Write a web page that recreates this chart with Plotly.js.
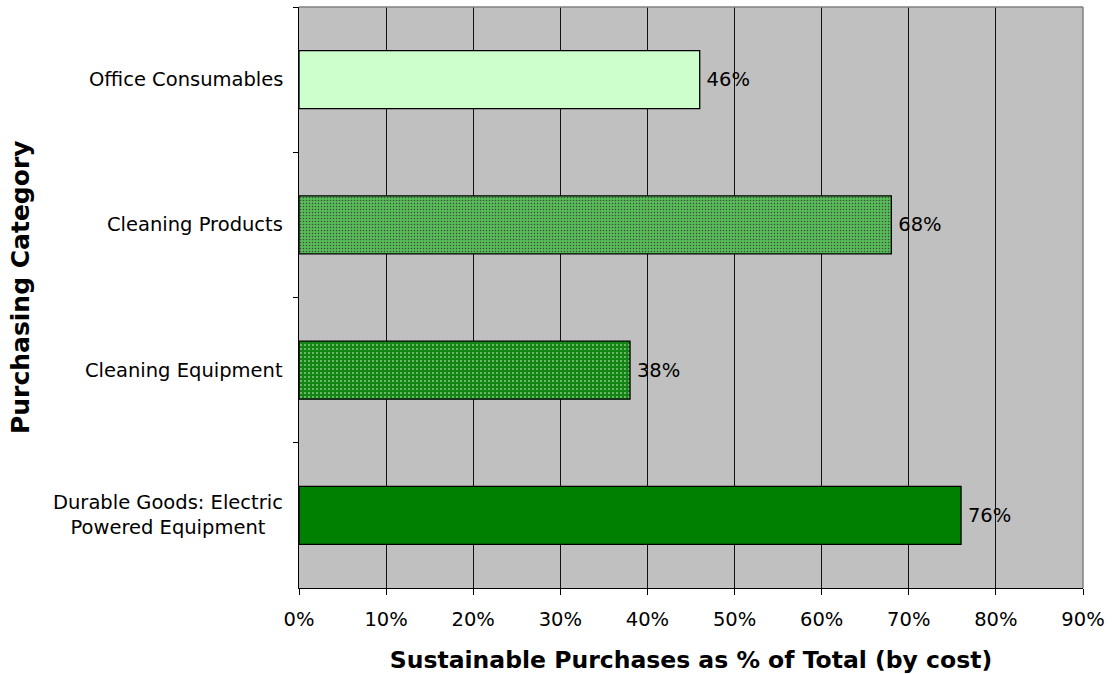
<!DOCTYPE html>
<html>
<head>
<meta charset="utf-8">
<script src="https://cdn.plot.ly/plotly-3.0.1.min.js"></script>
<style>
  html, body { margin: 0; padding: 0; background: #ffffff; }
  #chart { width: 1112px; height: 674px; }
</style>
</head>
<body>
<div id="chart"></div>
<script>
// Purchasing categories, top to bottom
const categories = [
  'Office Consumables',
  'Cleaning Products',
  'Cleaning Equipment',
  'Durable Goods: Electric<br>Powered Equipment'
];
// Sustainable share of spend per category
const shares = [0.46, 0.68, 0.38, 0.76];

// Bar fills: base colour plus an optional dot texture laid over it
const baseColors   = ['#ccffcc', '#55bd55', '#138513', '#008000'];
const patternShape = ['', '.', '.', ''];
const patternFg    = ['#ccffcc', '#95e395', '#62bc62', '#008000'];
const patternSize  = [4, 3, 4, 4];
const patternSolid = [0.2, 0.2, 0.1, 0.2];

const FONT = 'DejaVu Sans, Verdana, sans-serif';

const bars = {
  type: 'bar',
  orientation: 'h',
  x: shares,
  y: categories,
  marker: {
    color: baseColors,
    line: { color: '#000000', width: 1.3 },
    pattern: {
      shape: patternShape,
      fgcolor: patternFg,
      size: patternSize,
      solidity: patternSolid,
      fillmode: 'overlay',
      fgopacity: 1
    }
  },
  texttemplate: '\u2009%{x:.0%}',
  textposition: 'outside',
  textfont: { family: FONT, size: 19.5, color: '#000000' },
  cliponaxis: false,
  hoverinfo: 'skip'
};

// Category names drawn as centred text blocks to the left of the axis
const categoryLabels = categories.map((name) => ({
  xref: 'paper', yref: 'y',
  x: 0, y: name,
  xanchor: 'right', yanchor: 'middle',
  xshift: -14,
  align: 'center',
  showarrow: false,
  text: name,
  font: { family: FONT, size: 19.5, color: '#000000' }
}));

// Vertical axis title, set slightly above the plot's mid-height
const yTitle = {
  xref: 'paper', yref: 'paper',
  x: 0, y: 0.518,
  xanchor: 'center', yanchor: 'middle',
  xshift: -279,
  textangle: -90,
  showarrow: false,
  text: 'Purchasing Category',
  font: { family: FONT, size: 25, color: '#000000', weight: 'bold' }
};

const layout = {
  width: 1112,
  height: 674,
  margin: { l: 299, r: 29, t: 7, b: 86, pad: 0 },
  paper_bgcolor: '#ffffff',
  plot_bgcolor: '#c0c0c0',
  showlegend: false,
  bargap: 0.6,
  font: { family: FONT, size: 19.5, color: '#000000' },
  xaxis: {
    range: [0, 0.9],
    dtick: 0.1,
    tick0: 0,
    tickformat: '.0%',
    showgrid: true,
    gridcolor: '#111111',
    gridwidth: 1,
    zeroline: false,
    showline: true,
    linecolor: '#000000',
    linewidth: 1,
    ticks: 'outside',
    ticklen: 6,
    tickcolor: '#000000',
    ticklabelstandoff: 8,
    tickfont: { family: FONT, size: 19.5, color: '#000000' },
    title: {
      text: 'Sustainable Purchases as % of Total (by cost)',
      font: { family: FONT, size: 23.5, color: '#000000', weight: 'bold' },
      standoff: 22
    }
  },
  yaxis: {
    type: 'category',
    autorange: 'reversed',
    tickson: 'boundaries',
    ticks: 'outside',
    ticklen: 5,
    tickcolor: '#000000',
    showticklabels: false,
    showgrid: false,
    zeroline: false,
    showline: true,
    linecolor: '#000000',
    linewidth: 1
  },
  shapes: [
    { type: 'line', xref: 'paper', yref: 'paper', x0: 0, x1: 1, y0: 1, y1: 1,
      line: { color: '#808080', width: 1.5 }, layer: 'above' },
    { type: 'line', xref: 'paper', yref: 'paper', x0: 1, x1: 1, y0: 0, y1: 1,
      line: { color: '#808080', width: 1.5 }, layer: 'above' }
  ],
  annotations: categoryLabels.concat([yTitle])
};

Plotly.newPlot('chart', [bars], layout, { displayModeBar: false, staticPlot: true });
</script>
</body>
</html>
